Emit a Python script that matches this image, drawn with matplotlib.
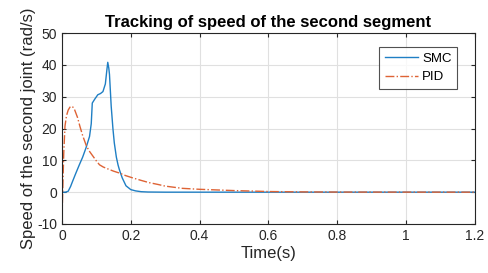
import matplotlib
matplotlib.use("Agg")
import matplotlib.pyplot as plt

t_smc = [0, 0.01, 0.018, 0.025, 0.03, 0.04, 0.05, 0.06, 0.07, 0.08, 0.085, 0.088, 0.095, 0.104, 0.112, 0.119, 0.126,
         0.13, 0.133, 0.136, 0.138, 0.143, 0.148, 0.152, 0.158, 0.163, 0.167, 0.175, 0.186, 0.2, 0.214, 0.23, 0.25, 0.3, 1.2]
v_smc = [0, 0, 0.3, 1.8, 3.2, 5.9, 8.5, 11.0, 14.0, 17.5, 21.5, 28.0, 29.2, 30.6, 31.0, 31.6, 34.0,
         38.0, 40.8, 39.0, 37.0, 27.0, 20.0, 15.5, 11.0, 8.5, 7.0, 4.5, 2.0, 0.8, 0.4, 0.15, 0.05, 0, 0]

t_pid = [0, 0.002, 0.005, 0.0086, 0.013, 0.018, 0.023, 0.028, 0.032, 0.037, 0.045, 0.052, 0.06, 0.071, 0.08, 0.09,
         0.1, 0.109, 0.12, 0.138, 0.15, 0.167, 0.185, 0.205, 0.23, 0.253, 0.28, 0.3, 0.35, 0.4, 0.45, 0.5, 0.55, 0.6, 0.7, 0.8, 1.2]
v_pid = [-8, 0, 12, 20.7, 24.0, 25.8, 26.7, 27.0, 26.7, 25.8, 23.5, 20.7, 17.8, 14.5, 12.8, 11.3,
         9.8, 8.6, 7.9, 7.1, 6.6, 6.0, 5.2, 4.5, 3.7, 3.0, 2.4, 1.9, 1.2, 0.9, 0.7, 0.5, 0.35, 0.2, 0.08, 0.03, 0]

xticks = [0, 0.2, 0.4, 0.6, 0.8, 1.0, 1.2]
xticklabels = ["0", "0.2", "0.4", "0.6", "0.8", "1", "1.2"]
yticks = [-10, 0, 10, 20, 30, 40, 50]

plt.rcParams['font.family'] = ['Liberation Sans', 'DejaVu Sans']
plt.rcParams['axes.unicode_minus'] = False

fig = plt.figure(figsize=(4.89, 2.73), dpi=100)
ax = fig.add_axes([0.1268, 0.1795, 0.8442, 0.6995])

ax.plot(t_smc, v_smc, color='#1f7fc4', lw=1.0, label='SMC')
ax.plot(t_pid, v_pid, color='#de6335', lw=1.0, ls='-.', label='PID')

ax.set_xlim(0, 1.2)
ax.set_ylim(-10, 50)
ax.set_xticks(xticks)
ax.set_xticklabels(xticklabels)
ax.set_yticks(yticks)
ax.grid(True, color='#e0e0e0', lw=0.8)
ax.set_axisbelow(True)
ax.tick_params(direction='in', top=True, right=True, labelsize=10, colors='#262626', length=3)
for s in ax.spines.values():
    s.set_color('#262626')
    s.set_linewidth(0.8)

ax.set_xlabel('Time(s)', fontsize=12, color='#262626', labelpad=2)
ax.set_ylabel('Speed of the second joint (rad/s)', fontsize=12, color='#262626', labelpad=1)
ax.set_title('Tracking of speed of the second segment', fontsize=12, fontweight='bold', pad=4)

leg = ax.legend(loc='upper right', bbox_to_anchor=(0.958, 0.928), fontsize=9.5, frameon=True,
                fancybox=False, edgecolor='#262626', handlelength=2.5, handletextpad=0.3,
                borderpad=0.45, labelspacing=0.45, borderaxespad=0)
leg.get_frame().set_linewidth(0.8)

fig.savefig('out.png', dpi=100)
